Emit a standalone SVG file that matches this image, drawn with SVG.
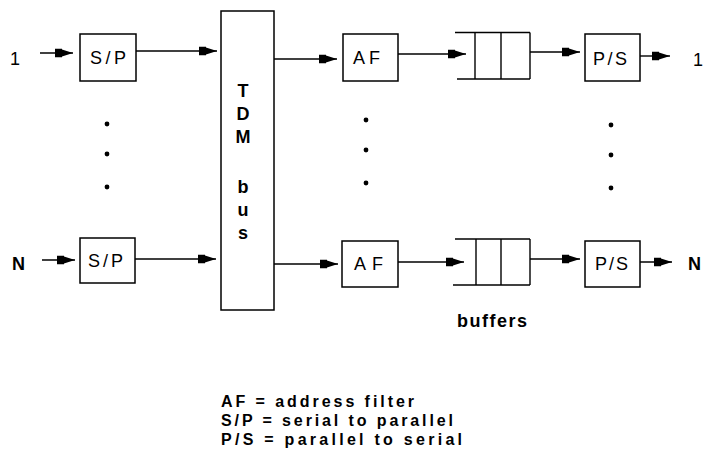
<svg xmlns="http://www.w3.org/2000/svg" width="703" height="464" viewBox="0 0 703 464">
<style>
.box{fill:#fff;stroke:#000;stroke-width:1.5}
.ln{stroke:#000;stroke-width:1.4;fill:none}
.wire{stroke:#000;stroke-width:1.4;fill:none;marker-end:url(#ah)}
.lbl{font-family:"Liberation Sans",Arial,sans-serif;font-size:18px;fill:#000}
.leg{font-family:"Liberation Sans",Arial,sans-serif;font-size:16px;font-weight:bold;fill:#000}
.b{font-weight:bold}
.dot{fill:#000}
</style>
<defs>
<marker id="ah" markerWidth="22" markerHeight="12" refX="19" refY="6" orient="auto" markerUnits="userSpaceOnUse" viewBox="0 0 22 12">
<path d="M1,1.8 L8,1.8 L8,2.6 L19,6 L8,9.4 L8,10.2 L1,10.2 Z" fill="#000"/>
</marker>
</defs>
<rect width="703" height="464" fill="#fff"/>

<g id="connectors">
<line class="wire" x1="40" y1="53" x2="73" y2="53"/>
<line class="wire" x1="136" y1="51" x2="217" y2="51"/>
<line class="wire" x1="272" y1="59" x2="337" y2="59"/>
<line class="wire" x1="398" y1="54" x2="466" y2="54"/>
<line class="wire" x1="530" y1="52" x2="580" y2="52"/>
<line class="wire" x1="638" y1="56" x2="670" y2="56"/>

<line class="wire" x1="42" y1="260" x2="75" y2="260"/>
<line class="wire" x1="135" y1="259" x2="216" y2="259"/>
<line class="wire" x1="272" y1="264" x2="338" y2="264"/>
<line class="wire" x1="398" y1="262" x2="464" y2="262"/>
<line class="wire" x1="530" y1="259" x2="580" y2="259"/>
<line class="wire" x1="638" y1="262" x2="672" y2="262"/>
</g>

<g id="in1"><text class="lbl" x="10" y="65">1</text></g>
<g id="inN"><text class="lbl b" x="12" y="270">N</text></g>
<g id="out1"><text class="lbl" x="693" y="66">1</text></g>
<g id="outN"><text class="lbl b" x="688" y="270">N</text></g>

<g id="sp1">
<rect class="box" x="80" y="34" width="56" height="47"/>
<text class="lbl" x="90" y="64" textLength="36" lengthAdjust="spacing">S/P</text>
</g>
<g id="spN">
<rect class="box" x="80" y="238" width="55" height="45"/>
<text class="lbl" x="88" y="267" textLength="35" lengthAdjust="spacing">S/P</text>
</g>

<g id="tdm">
<rect class="box" x="221" y="11" width="53" height="299"/>
<g class="lbl b" text-anchor="middle">
<text x="243" y="97">T</text>
<text x="243" y="120">D</text>
<text x="243" y="143">M</text>
<text x="243" y="193">b</text>
<text x="243" y="216">u</text>
<text x="243" y="239">s</text>
</g>
</g>

<g id="af1">
<rect class="box" x="343" y="34" width="55" height="47"/>
<text class="lbl" x="353" y="64" textLength="27" lengthAdjust="spacing">AF</text>
</g>
<g id="afN">
<rect class="box" x="342" y="241" width="56" height="46"/>
<text class="lbl" x="354" y="270" textLength="29" lengthAdjust="spacing">AF</text>
</g>

<g id="buf1">
<line class="ln" x1="455" y1="32.5" x2="530" y2="32.5"/>
<line class="ln" x1="457" y1="79" x2="530" y2="79"/>
<line class="ln" x1="475" y1="32.5" x2="475" y2="79"/>
<line class="ln" x1="501" y1="32.5" x2="501" y2="79"/>
<line class="ln" x1="530" y1="32.5" x2="530" y2="79"/>
</g>
<g id="bufN">
<line class="ln" x1="455" y1="239" x2="530" y2="239"/>
<line class="ln" x1="453" y1="285" x2="530" y2="285"/>
<line class="ln" x1="476" y1="239" x2="476" y2="285"/>
<line class="ln" x1="501" y1="239" x2="501" y2="285"/>
<line class="ln" x1="530" y1="239" x2="530" y2="285"/>
</g>

<g id="ps1">
<rect class="box" x="585" y="34" width="55" height="47"/>
<text class="lbl" x="593" y="65" textLength="34" lengthAdjust="spacing">P/S</text>
</g>
<g id="psN">
<rect class="box" x="585" y="241" width="55" height="46"/>
<text class="lbl" x="595" y="270" textLength="33" lengthAdjust="spacing">P/S</text>
</g>

<g id="dots">
<circle class="dot" cx="107" cy="124" r="2.4"/>
<circle class="dot" cx="107" cy="154" r="2.4"/>
<circle class="dot" cx="107" cy="187" r="2.4"/>
<circle class="dot" cx="366" cy="120" r="2.4"/>
<circle class="dot" cx="366" cy="150" r="2.4"/>
<circle class="dot" cx="366" cy="183" r="2.4"/>
<circle class="dot" cx="611" cy="125" r="2.4"/>
<circle class="dot" cx="611" cy="155" r="2.4"/>
<circle class="dot" cx="611" cy="188" r="2.4"/>
</g>

<g id="buffers-label"><text class="lbl b" x="457" y="327" textLength="70" lengthAdjust="spacing">buffers</text></g>

<g id="legend">
<text class="leg" x="221" y="407" textLength="193" lengthAdjust="spacing">AF = address filter</text>
<text class="leg" x="221" y="426" textLength="232" lengthAdjust="spacing">S/P = serial to parallel</text>
<text class="leg" x="221" y="445" textLength="241" lengthAdjust="spacing">P/S = parallel to serial</text>
</g>
</svg>
